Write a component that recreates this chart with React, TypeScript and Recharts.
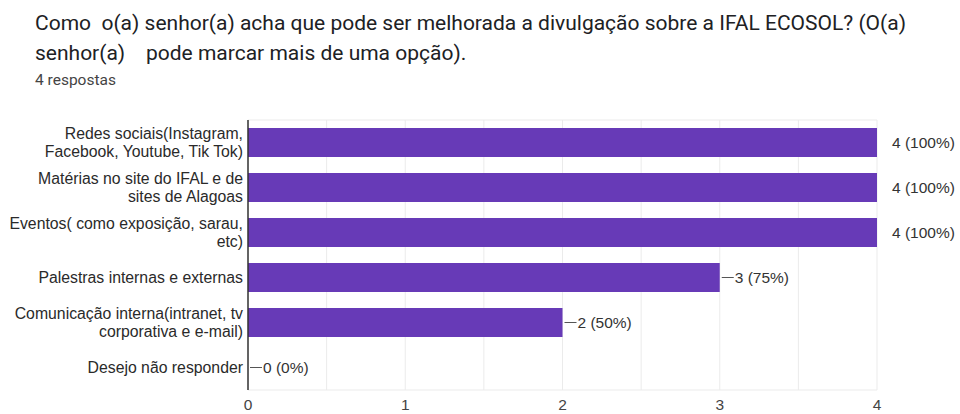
import React from 'react';
import { BarChart, Bar, XAxis, YAxis, CartesianGrid, LabelList } from 'recharts';

// answer options (line breaks as they wrap in the form chart)
const categories = [
  'Redes sociais(Instagram,\nFacebook, Youtube, Tik Tok)',
  'Matérias no site do IFAL e de\nsites de Alagoas',
  'Eventos( como exposição, sarau,\netc)',
  'Palestras internas e externas',
  'Comunicação interna(intranet, tv\ncorporativa e e-mail)',
  'Desejo não responder',
];
const counts = [4, 4, 4, 3, 2, 0];
const totalResponses = 4;
const xTicks = [0, 0.5, 1, 1.5, 2, 2.5, 3, 3.5, 4];

const data = categories.map((name, i) => ({ name, count: counts[i] }));
const maxCount = Math.max(...counts);

const chartFont = '"Liberation Sans", Arial, sans-serif';

const CategoryTick = (props: any) => {
  const { x, y, payload } = props;
  const lines: string[] = String(payload.value).split('\n');
  const lineH = 18;
  const start = -((lines.length - 1) * lineH) / 2;
  return (
    <text x={x + 3} y={y} textAnchor="end" fill="#2a2a2a" fontSize={15.8} fontFamily={chartFont}>
      {lines.map((l, i) => (
        <tspan key={i} x={x + 3} dy={i === 0 ? start + 5.5 : lineH}>
          {l}
        </tspan>
      ))}
    </text>
  );
};

const ValueTick = (props: any) => {
  const { x, y, payload } = props;
  if (!Number.isInteger(payload.value)) return null;
  return (
    <text x={x} y={y + 12} textAnchor="middle" fill="#444" fontSize={15.5} fontFamily={chartFont}>
      {payload.value}
    </text>
  );
};

const ValueLabel = (props: any) => {
  const { x, y, width, height, value } = props;
  const end = x + width;
  const cy = y + height / 2;
  const pct = Math.round((value / totalResponses) * 100);
  const txt = `${value} (${pct}%)`;
  return (
    <g>
      {value !== maxCount && (
        <line x1={end + 2} x2={end + 14} y1={cy} y2={cy} stroke="#555" strokeWidth={1} />
      )}
      <text x={end + 15} y={cy + 5.5} fill="#333" fontSize={15.5} fontFamily={chartFont}>
        {txt}
      </text>
    </g>
  );
};

export default function App() {
  return (
    <div style={{ position: 'absolute', left: 0, top: 0, width: 960, height: 414, background: '#fff' }}>
      <div
        style={{
          position: 'absolute',
          left: 35,
          top: 8,
          fontFamily: 'Roboto, sans-serif',
          fontSize: 21,
          lineHeight: '30px',
          color: '#202124',
          whiteSpace: 'pre',
        }}
      >
        {'Como  o(a) senhor(a) acha que pode ser melhorada a divulgação sobre a IFAL ECOSOL? (O(a)\nsenhor(a)    pode marcar mais de uma opção).'}
      </div>
      <div
        style={{
          position: 'absolute',
          left: 35,
          top: 71,
          fontFamily: 'Roboto, sans-serif',
          fontSize: 15.5,
          color: '#444',
        }}
      >
        4 respostas
      </div>
      <div style={{ position: 'absolute', left: 0, top: 0 }}>
        <BarChart
          width={960}
          height={414}
          data={data}
          layout="vertical"
          margin={{ top: 120, right: 83, bottom: 0, left: 0 }}
          barCategoryGap={8}
        >
          <CartesianGrid
            stroke="#ebebeb"
            vertical
            horizontalCoordinatesGenerator={({ offset }: any) => [offset.top, offset.top + offset.height]}
          />
          <XAxis
            type="number"
            domain={[0, 4]}
            ticks={xTicks}
            axisLine={false}
            tickLine={false}
            height={24}
            tick={<ValueTick />}
            interval={0}
          />
          <YAxis
            type="category"
            dataKey="name"
            width={248}
            axisLine={{ stroke: '#333', strokeWidth: 1.5 }}
            tickLine={false}
            tick={<CategoryTick />}
            interval={0}
          />
          <Bar dataKey="count" fill="#673ab7" isAnimationActive={false} minPointSize={0.01}>
            <LabelList dataKey="count" content={<ValueLabel />} />
          </Bar>
        </BarChart>
      </div>
    </div>
  );
}
